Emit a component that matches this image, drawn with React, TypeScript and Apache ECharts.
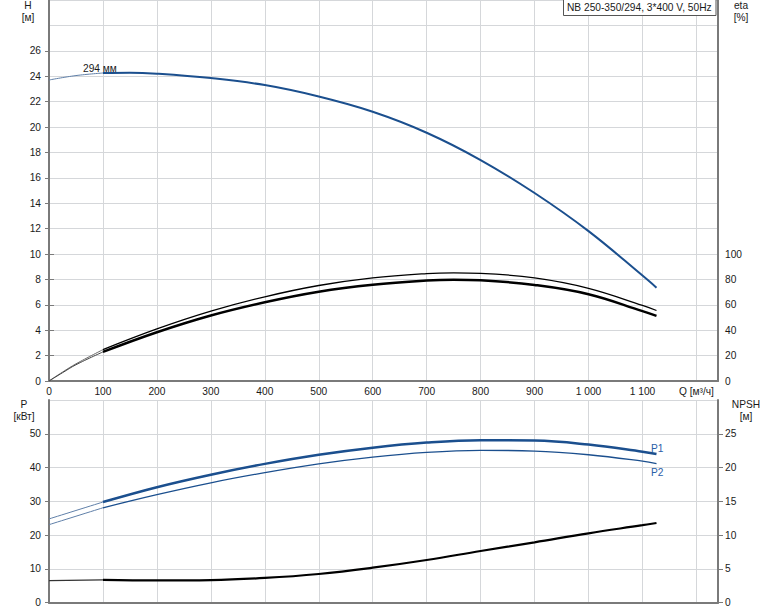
import React, { useEffect, useRef } from "react";
import * as echarts from "echarts";

// ---- data ----
const qH = [0, 50, 100, 150, 200, 300, 400, 500, 600, 700, 800, 900, 1000, 1100, 1126];
const headH = [23.7, 24.05, 24.25, 24.28, 24.2, 23.85, 23.3, 22.4, 21.2, 19.55, 17.4, 14.8, 11.8, 8.3, 7.35];

const qEta = [0, 25, 50, 100, 200, 300, 400, 500, 600, 700, 750, 800, 900, 1000, 1100, 1126];
const etaUpper = [0, 7, 13.5, 24.7, 41, 55, 66.3, 75.2, 81.2, 84.6, 85.2, 84.8, 81.2, 73, 59.5, 55.5];
const etaLower = [0, 6.5, 12.8, 22.9, 38.4, 51.6, 62, 70.3, 75.8, 79.1, 79.75, 79.3, 75.6, 68.3, 55.0, 51.3];

const qP = [0, 100, 200, 300, 400, 500, 600, 700, 800, 900, 1000, 1100, 1126];
const powerP1 = [24.8, 29.8, 34.2, 37.9, 41.1, 43.8, 45.9, 47.4, 48.1, 48.0, 46.8, 44.7, 44.05];
const powerP2 = [23.1, 28.1, 32.0, 35.5, 38.5, 41.1, 43.1, 44.5, 45.1, 44.9, 43.8, 41.9, 41.2];

const qN = [0, 100, 200, 300, 400, 500, 600, 700, 800, 900, 1000, 1100, 1126];
const npsh = [3.27, 3.38, 3.3, 3.35, 3.66, 4.25, 5.18, 6.32, 7.65, 8.94, 10.27, 11.47, 11.8];

const qSplit = 100; // start of the thick (valid) range

const title = "NB 250-350/294, 3*400 V, 50Hz";
const curveLabel = "294 мм";
const qName = "Q [м³/ч]";

// ---- helpers ----
const pts = (q: number[], v: number[]) => q.map((x, i) => [x, v[i]]);
const thin = (q: number[], v: number[]) => pts(q, v).filter((p) => p[0] <= qSplit);
const thick = (q: number[], v: number[]) => pts(q, v).filter((p) => p[0] >= qSplit);

const FONT = "'Liberation Sans', Arial, sans-serif";
const FS = 10.2;
const TXT = "#1a1a1a";
const AXIS = "#7a7a7a";
const GRIDC = "#d5d7da";
const BLUE = "#1b4f8e";
const BLUE_LBL = "#2a5ea8";

const L = 49;
const R = 56;

export default function App() {
  const ref = useRef<HTMLDivElement>(null);

  useEffect(() => {
    if (!ref.current) return;
    const chart = echarts.init(ref.current, null, { renderer: "svg" });

    const xBase = { type: "value", min: 0, max: 1240, interval: 100 } as any;
    const hiddenX = (gridIndex: number) => ({ ...xBase, gridIndex, show: false });

    const lbl = (margin: number) => ({
      show: true,
      color: TXT,
      fontSize: FS,
      fontFamily: FONT,
      margin,
    });

    const line = (
      name: string,
      data: number[][],
      xi: number,
      yi: number,
      color: string,
      width: number
    ) => ({
      name,
      type: "line",
      xAxisIndex: xi,
      yAxisIndex: yi,
      data,
      smooth: 0.4,
      symbol: "none",
      lineStyle: { color, width },
      silent: true,
      z: 5,
    });

    const font = `${FS}px ${FONT}`;
    const txt = (x: number, y: number, text: string, fill = TXT, align = "center") => ({
      type: "text",
      x,
      y,
      z: 10,
      style: { text, fill, font, align, verticalAlign: "middle" },
    });

    const option: any = {
      animation: false,
      backgroundColor: "#ffffff",
      grid: [
        { left: L, right: R, top: 0, height: 381 },
        { left: L, right: R, top: 50.8, height: 330.2 },
        { left: L, right: R, top: 254, height: 127 },
        { left: L, right: R, top: 400, height: 202.7 },
        { left: L, right: R, top: 433.8, height: 168.9 },
      ],
      xAxis: [
        {
          ...xBase,
          gridIndex: 0,
          axisLine: { show: true, onZero: false, lineStyle: { color: AXIS, width: 2 } },
          axisTick: { show: false },
          splitLine: { show: true, lineStyle: { color: GRIDC, width: 1 } },
          axisLabel: {
            ...lbl(5),
            showMaxLabel: true,
            formatter: (v: number) => {
              if (v % 100 !== 0) return "";
              if (v === 1200) return qName;
              if (v >= 1000) return `${Math.floor(v / 1000)} ${String(v % 1000).padStart(3, "0")}`;
              return String(v);
            },
          },
        },
        hiddenX(1),
        hiddenX(2),
        {
          ...xBase,
          gridIndex: 3,
          axisLine: { show: true, onZero: false, lineStyle: { color: AXIS, width: 2 } },
          axisTick: { show: false },
          axisLabel: { show: false },
          splitLine: { show: true, lineStyle: { color: GRIDC, width: 1 } },
        },
        hiddenX(4),
      ],
      yAxis: [
        {
          type: "value",
          gridIndex: 0,
          min: 0,
          max: 30,
          interval: 2,
          position: "left",
          axisLine: { show: true, lineStyle: { color: AXIS, width: 2 } },
          axisTick: { show: false },
          axisLabel: { show: false },
          splitLine: { show: true, lineStyle: { color: GRIDC, width: 1 } },
        },
        {
          type: "value",
          gridIndex: 0,
          min: 0,
          max: 30,
          interval: 2,
          position: "right",
          axisLine: { show: true, lineStyle: { color: AXIS, width: 2 } },
          axisTick: { show: false },
          axisLabel: { show: false },
          splitLine: { show: false },
        },
        {
          type: "value",
          gridIndex: 1,
          min: 0,
          max: 26,
          interval: 2,
          position: "left",
          axisLine: { show: false },
          axisTick: { show: true, length: 4, lineStyle: { color: AXIS } },
          axisLabel: lbl(8),
          splitLine: { show: false },
        },
        {
          type: "value",
          gridIndex: 2,
          min: 0,
          max: 100,
          interval: 20,
          position: "right",
          axisLine: { show: false },
          axisTick: { show: true, length: 5, lineStyle: { color: AXIS } },
          axisLabel: lbl(7),
          splitLine: { show: false },
        },
        {
          type: "value",
          gridIndex: 3,
          min: 0,
          max: 60,
          interval: 10,
          position: "left",
          axisLine: { show: true, lineStyle: { color: AXIS, width: 2 } },
          axisTick: { show: false },
          axisLabel: { show: false },
          splitLine: { show: true, lineStyle: { color: GRIDC, width: 1 } },
        },
        {
          type: "value",
          gridIndex: 3,
          min: 0,
          max: 60,
          interval: 10,
          position: "right",
          axisLine: { show: true, lineStyle: { color: AXIS, width: 2 } },
          axisTick: { show: false },
          axisLabel: { show: false },
          splitLine: { show: false },
        },
        {
          type: "value",
          gridIndex: 4,
          min: 0,
          max: 50,
          interval: 10,
          position: "left",
          axisLine: { show: false },
          axisTick: { show: true, length: 4, lineStyle: { color: AXIS } },
          axisLabel: lbl(8),
          splitLine: { show: false },
        },
        {
          type: "value",
          gridIndex: 4,
          min: 0,
          max: 25,
          interval: 5,
          position: "right",
          axisLine: { show: false },
          axisTick: { show: true, length: 5, lineStyle: { color: AXIS } },
          axisLabel: lbl(7),
          splitLine: { show: false },
        },
      ],
      series: [
        line("H thin", thin(qH, headH), 1, 2, "#5f7fa8", 1),
        line("H", thick(qH, headH), 1, 2, BLUE, 2),
        line("eta1 thin", thin(qEta, etaUpper), 2, 3, "#666", 1),
        line("eta1", thick(qEta, etaUpper), 2, 3, "#000", 1.3),
        line("eta2 thin", thin(qEta, etaLower), 2, 3, "#444", 1),
        line("eta2", thick(qEta, etaLower), 2, 3, "#000", 2.5),
        line("P1 thin", thin(qP, powerP1), 4, 6, "#5f7fa8", 1),
        line("P1", thick(qP, powerP1), 4, 6, BLUE, 2.5),
        line("P2 thin", thin(qP, powerP2), 4, 6, "#5f7fa8", 1),
        line("P2", thick(qP, powerP2), 4, 6, BLUE, 1.3),
        line("NPSH thin", thin(qN, npsh), 4, 7, "#333", 1.3),
        line("NPSH", thick(qN, npsh), 4, 7, "#000", 2.2),
      ],
      graphic: [
        {
          type: "rect",
          shape: { x: 563.5, y: -1, width: 152.5, height: 16.5 },
          style: { fill: "#fff", stroke: "#555", lineWidth: 1 },
          z: 100,
        },
        { ...txt(567, 7.5, title, TXT, "left"), z: 101 },
        txt(28, 5, "H"),
        txt(28, 17, "[м]"),
        txt(741, 5, "eta"),
        txt(741, 17, "[%]"),
        txt(24, 404, "P"),
        txt(24, 416.5, "[кВт]"),
        txt(746, 404, "NPSH"),
        txt(746, 416.5, "[м]"),
        txt(83, 68.5, curveLabel, TXT, "left"),
        txt(651, 448.5, "P1", BLUE_LBL, "left"),
        txt(651, 472.5, "P2", BLUE_LBL, "left"),
      ],
    };

    chart.setOption(option);
    return () => chart.dispose();
  }, []);

  return (
    <div
      ref={ref}
      style={{ position: "fixed", left: 0, top: 0, width: 774, height: 611, background: "#fff" }}
    />
  );
}
